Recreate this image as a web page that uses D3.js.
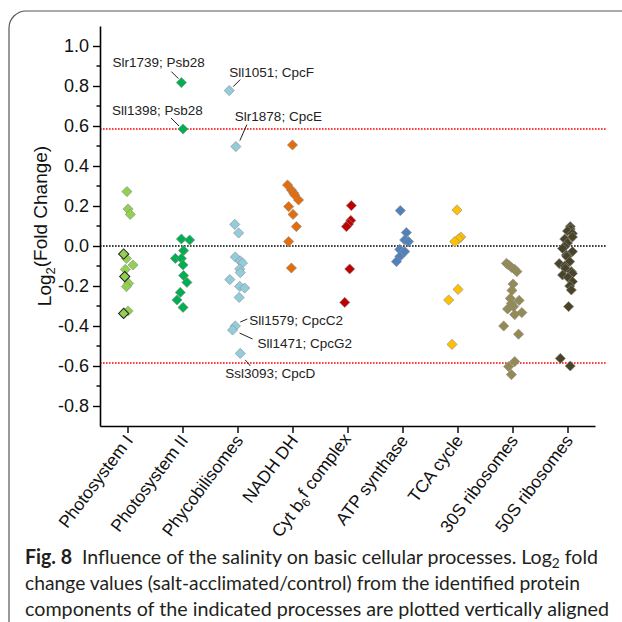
<!DOCTYPE html>
<html>
<head>
<meta charset="utf-8">
<script src="https://d3js.org/d3.v7.min.js"></script>
<style>
body { margin: 0; background: #fff; }
text { font-family: "Liberation Sans", Arial, sans-serif; }
</style>
</head>
<body>
<svg id="fig" width="622" height="622"></svg>

<script>
// categories on the x axis
var categories = ["Photosystem I", "Photosystem II", "Phycobilisomes", "NADH DH",
  "Cyt b6f complex", "ATP synthase", "TCA cycle", "30S ribosomes", "50S ribosomes"];

// each point: [log2 fold change, jitter (fraction of category step), outlined]
var photosystem1 = [[0.272,-0.01],[0.185,0.01],[0.158,0.05],[-0.062,-0.02],[-0.095,0.10],
  [-0.117,-0.04],[-0.187,0.02],[-0.203,-0.02],[-0.325,0.01],
  [-0.04,-0.07,1],[-0.153,-0.05,1],[-0.337,-0.07,1]];
var photosystem2 = [[0.817,-0.02],[0.585,0.01],[0.035,-0.02],[0.03,0.13],[-0.023,0.02],
  [-0.062,-0.13],[-0.062,-0.02],[-0.095,0.01],[-0.148,0.02],[-0.182,0.08],[-0.232,-0.04],
  [-0.27,-0.10],[-0.307,0.01]];
var phycobilisomes = [[0.777,-0.15],[0.497,-0.03],[0.108,-0.05],[0.065,0.02],[-0.055,-0.04],
  [-0.075,0.05],[-0.085,0.09],[-0.115,0.04],[-0.133,0.05],[-0.168,-0.14],[-0.202,0.04],
  [-0.21,0.13],[-0.257,0.03],[-0.4,-0.04],[-0.42,-0.09],[-0.537,0.05]];
var nadhDH = [[0.505,0],[0.305,-0.09],[0.28,-0.02],[0.265,0.02],[0.255,0.04],[0.23,0.11],
  [0.197,-0.07],[0.158,0.01],[0.097,0.07],[0.022,-0.07],[-0.11,-0.02]];
var cytB6f = [[0.202,0.07],[0.128,0.06],[0.11,0.02],[0.097,-0.02],[-0.115,0.04],[-0.282,-0.05]];
var atpSynthase = [[0.177,-0.04],[0.067,0.07],[0.03,0.04],[0.022,0.11],[-0.017,-0.05],
  [-0.028,0.04],[-0.053,-0.05],[-0.078,-0.11]];
var tcaCycle = [[0.18,-0.01],[0.045,0.06],[0.035,0.02],[0.022,-0.05],[-0.217,0.01],
  [-0.27,-0.16],[-0.492,-0.10]];
var ribosomes30S = [[-0.087,-0.11],[-0.095,-0.07],[-0.107,-0.02],[-0.117,0.04],[-0.128,0.08],
  [-0.19,0.01],[-0.222,-0.01],[-0.262,-0.04],[-0.272,0.12],[-0.287,-0.02],[-0.303,0.02],
  [-0.315,-0.09],[-0.333,0.17],[-0.343,0.04],[-0.4,-0.16],[-0.441,0.11],[-0.578,0.04],
  [-0.603,-0.07],[-0.643,-0.02]];
var ribosomes50S = [[0.097,0.05],[0.085,0.05],[0.075,0],[0.063,0.09],[0.045,0.09],[0.035,-0.05],
  [0.015,0],[-0.003,-0.05],[-0.012,-0.09],[-0.028,0.09],[-0.045,-0.02],[-0.053,-0.01],
  [-0.078,0.04],[-0.088,-0.15],[-0.1,-0.05],[-0.112,-0.04],[-0.128,0.07],[-0.137,0.09],
  [-0.145,-0.09],[-0.157,0.01],[-0.178,0.09],[-0.2,0.04],[-0.22,0.07],[-0.303,0.02],
  [-0.562,-0.13],[-0.6,0.05]];

var series = [photosystem1, photosystem2, phycobilisomes, nadhDH, cytB6f,
  atpSynthase, tcaCycle, ribosomes30S, ribosomes50S];

// y axis ticks
var yTicks = [-0.8, -0.6, -0.4, -0.2, 0.0, 0.2, 0.4, 0.6, 0.8, 1.0];
var yMinorTicks = [-0.7, -0.5, -0.3, -0.1, 0.1, 0.3, 0.5, 0.7, 0.9];

// threshold = log2(1.5)
var thresholds = [0.585, -0.585];

// labelled proteins
var annotations = [
  {label: "Slr1739; Psb28", cat: "Photosystem II", value: 0.817},
  {label: "Sll1398; Psb28", cat: "Photosystem II", value: 0.585},
  {label: "Sll1051; CpcF", cat: "Phycobilisomes", value: 0.777},
  {label: "Slr1878; CpcE", cat: "Phycobilisomes", value: 0.497},
  {label: "Sll1579; CpcC2", cat: "Phycobilisomes", value: -0.4},
  {label: "Sll1471; CpcG2", cat: "Phycobilisomes", value: -0.42},
  {label: "Ssl3093; CpcD", cat: "Phycobilisomes", value: -0.537}
];

var colors = ["#92d050", "#00b050", "#92cddc", "#e46c0a", "#c00000",
  "#4f81bd", "#ffc000", "#948a54", "#494429"];

var svg = d3.select("#fig");

// figure frame
svg.append("path")
  .attr("d", "M622,11 H26 A17,17 0 0 0 9,28 V622")
  .attr("fill", "none")
  .attr("stroke", "#555")
  .attr("stroke-width", 1.2);

var x = d3.scalePoint()
  .domain(categories)
  .range([100, 595])
  .padding(0.5);

var y = d3.scaleLinear()
  .domain([-0.9, 1.1])
  .range([426, 26]);

// reference lines
svg.append("line")
  .attr("x1", 100).attr("x2", 607)
  .attr("y1", y(0)).attr("y2", y(0))
  .attr("stroke", "#000")
  .attr("stroke-width", 1.6)
  .attr("stroke-dasharray", "1.6,1.4");

svg.selectAll(".thr")
  .data(thresholds)
  .enter()
  .append("line")
  .attr("class", "thr")
  .attr("x1", 100).attr("x2", 607)
  .attr("y1", function(d) { return y(d); })
  .attr("y2", function(d) { return y(d); })
  .attr("stroke", "#ff0000")
  .attr("stroke-width", 1.6)
  .attr("stroke-dasharray", "1.6,1.4");

// points
var diamond = d3.symbol().type(d3.symbolSquare).size(52);
series.forEach(function(pts, i) {
  var cat = categories[i];
  svg.append("g")
    .selectAll("path")
    .data(pts)
    .enter()
    .append("path")
    .attr("d", diamond)
    .attr("transform", function(d) {
      return "translate(" + (x(cat) + d[1] * x.step()) + "," + y(d[0]) + ") rotate(45)";
    })
    .attr("fill", colors[i])
    .attr("stroke", function(d) { return d[2] ? "#222" : "#8c8c8c"; })
    .attr("stroke-width", function(d) { return d[2] ? 1 : 0.6; });
});

// annotation placement relative to the point: text start and leader line
var annLayout = {
  "Slr1739; Psb28": {tx: -69, ty: -16, l: [-10, -11, -3, -4]},
  "Sll1398; Psb28": {tx: -71, ty: -14, l: [-12, -11, -4, -3]},
  "Sll1051; CpcF": {tx: 0, ty: -14, l: [11, -11, 4, -4]},
  "Slr1878; CpcE": {tx: -1, ty: -26, l: [11, -22, 4, -6]},
  "Sll1579; CpcC2": {tx: 14, ty: -1, l: [5, -4, 12, -7]},
  "Sll1471; CpcG2": {tx: 25, ty: 18, l: [7, 3, 20, 9]},
  "Ssl3093; CpcD": {tx: -15, ty: 25, l: [5, 6.5, 10, 12.5]}
};

annotations.forEach(function(a) {
  var i = categories.indexOf(a.cat);
  var p = series[i].filter(function(d) { return d[0] === a.value; })[0];
  var px = x(a.cat) + p[1] * x.step();
  var py = y(a.value);
  var L = annLayout[a.label];
  svg.append("line")
    .attr("x1", px + L.l[0]).attr("y1", py + L.l[1])
    .attr("x2", px + L.l[2]).attr("y2", py + L.l[3])
    .attr("stroke", "#222")
    .attr("stroke-width", 1);
  svg.append("text")
    .attr("x", px + L.tx)
    .attr("y", py + L.ty)
    .style("font-size", "13.5px")
    .attr("fill", "#222")
    .text(a.label);
});

// y axis
var yAxis = svg.append("g")
  .attr("transform", "translate(100,0)")
  .call(d3.axisLeft(y)
    .tickValues(yTicks)
    .tickSize(7)
    .tickSizeOuter(0)
    .tickPadding(4)
    .tickFormat(function(d) { return d.toFixed(1); }));
yAxis.select(".domain").attr("stroke-width", 1.6);
yAxis.selectAll(".tick line").attr("stroke-width", 1.4);
yAxis.selectAll("text")
  .style("font-size", "18px")
  .attr("fill", "#111");

yAxis.selectAll(".minor")
  .data(yMinorTicks)
  .enter()
  .append("line")
  .attr("class", "minor")
  .attr("x1", -3.5).attr("x2", 0)
  .attr("y1", function(d) { return y(d); })
  .attr("y2", function(d) { return y(d); })
  .attr("stroke", "#000")
  .attr("stroke-width", 1.4);

// x axis
var xAxis = svg.append("g")
  .attr("transform", "translate(0," + y(-0.9) + ")")
  .call(d3.axisBottom(x).tickSize(7).tickSizeOuter(0));
xAxis.select(".domain").attr("stroke-width", 1.6);
xAxis.selectAll(".tick line").attr("stroke-width", 1.4);
xAxis.selectAll("text")
  .style("font-size", "17.5px")
  .attr("fill", "#111")
  .attr("text-anchor", "end")
  .attr("x", 0).attr("y", 0).attr("dy", "0.35em")
  .attr("transform", "translate(1,11) rotate(-53)")
  .each(function(d) {
    if (d === "Cyt b6f complex") {
      var t = d3.select(this).text("Cyt b");
      t.append("tspan").attr("dy", "0.25em").style("font-size", "12px").text("6");
      t.append("tspan").attr("dy", "-0.33em").text("f complex");
    }
  });

// y axis title
var yTitle = svg.append("text")
  .attr("transform", "translate(51,226) rotate(-90)")
  .attr("text-anchor", "middle")
  .style("font-size", "19px")
  .attr("fill", "#111");
yTitle.append("tspan").text("Log");
yTitle.append("tspan").attr("dy", "0.3em").style("font-size", "13px").text("2");
yTitle.append("tspan").attr("dy", "-0.4em").text("(Fold Change)");

// caption
var capFont = "Lato, 'Open Sans', sans-serif";
var cap1 = svg.append("text")
  .attr("x", 25).attr("y", 564)
  .attr("textLength", 573).attr("lengthAdjust", "spacingAndGlyphs")
  .style("font-family", capFont).style("font-size", "20px").attr("fill", "#231f20");
cap1.append("tspan").style("font-weight", "bold").text("Fig. 8");
cap1.append("tspan").text("\u2002Influence of the salinity on basic cellular processes. Log");
cap1.append("tspan").attr("dy", 4).style("font-size", "14px").text("2");
cap1.append("tspan").attr("dy", -4).text(" fold");

svg.append("text")
  .attr("x", 25).attr("y", 590)
  .attr("textLength", 555).attr("lengthAdjust", "spacingAndGlyphs")
  .style("font-family", capFont).style("font-size", "20px").attr("fill", "#231f20")
  .text("change values (salt-acclimated/control) from the identified protein");

svg.append("text")
  .attr("x", 25).attr("y", 616)
  .attr("textLength", 584).attr("lengthAdjust", "spacingAndGlyphs")
  .style("font-family", capFont).style("font-size", "20px").attr("fill", "#231f20")
  .text("components of the indicated processes are plotted vertically aligned");
</script>
</body>
</html>
